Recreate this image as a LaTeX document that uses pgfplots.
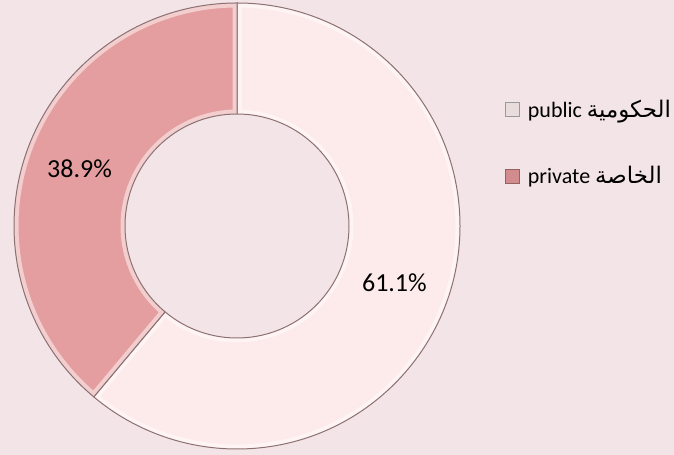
\documentclass[border=0pt]{standalone}
\usepackage{pgfplots}
\pgfplotsset{compat=1.18}
\usepackage{pgfplotstable}
\usepackage{fontspec}
\setmainfont{Carlito}
\newfontfamily\arabicfont[Script=Arabic,Scale=1.04]{DejaVu Sans}
\TeXXeTstate=1
\definecolor{bgc}{RGB}{243,228,232}
\definecolor{pubc}{RGB}{253,234,234}
\definecolor{privc}{RGB}{229,158,159}
\definecolor{edgec}{RGB}{140,112,114}
\definecolor{pubsq}{RGB}{232,220,221}
\definecolor{privsq}{RGB}{210,140,142}

\pgfplotstableread{
label value
public 61.1
private 38.9
}\sharetable

\pgfplotstablegetelem{0}{value}\of\sharetable \let\vpub\pgfplotsretval
\pgfplotstablegetelem{1}{value}\of\sharetable \let\vpriv\pgfplotsretval
\pgfmathsetmacro\aA{90}
\pgfmathsetmacro\aB{90-3.6*\vpub}
\pgfmathsetmacro\aC{\aB-3.6*\vpriv}
\pgfmathsetmacro\mA{90-1.8*\vpub}
\pgfmathsetmacro\mB{\aB-1.8*\vpriv}
\def\Ro{223bp}
\def\Ri{112bp}
\def\Rm{167.5bp}

\newcommand\slicepath[2]{([shift={(#1:\Ro)}]axis cs:237,229) arc[start angle=#1,end angle=#2,radius=\Ro] -- ([shift={(#2:\Ri)}]axis cs:237,229) arc[start angle=#2,end angle=#1,radius=\Ri] -- cycle}
\newcommand\slice[3]{%
  \fill[#3] \slicepath{#1}{#2};
  \begin{scope}
    \clip \slicepath{#1}{#2};
    \draw[white,line width=9bp,opacity=0.5] \slicepath{#1}{#2};
  \end{scope}
  \draw[edgec,line width=1bp,line join=round] \slicepath{#1}{#2};
}

\begin{document}
\begin{tikzpicture}
\begin{axis}[
  x=1bp, y=1bp,
  xmin=0, xmax=674, ymin=0, ymax=455,
  scale only axis,
  hide axis,
  clip=true,
  at={(0,0)}, anchor=south west,
  legend cell align=left,
  legend style={draw=none, fill=none, at={(axis cs:505,358)}, anchor=north west,
    font=\fontsize{22bp}{26bp}\selectfont, row sep=43bp, inner sep=0pt,
    nodes={inner sep=2.5bp}},
  legend image code/.code={\draw[#1] (0bp,-7bp) rectangle (14bp,7bp); \path[draw=none,fill=none] (14bp,0bp) -- (20bp,0bp);},
]
\fill[bgc] (axis cs:0,0) rectangle (axis cs:674,455);
\slice{\aA}{\aB}{pubc}
\slice{\aB}{\aC}{privc}
\node[font=\fontsize{26bp}{31bp}\selectfont] at ([shift={(\mA:\Rm)}]axis cs:237,229) {\vpub\%};
\node[font=\fontsize{26bp}{31bp}\selectfont] at ([shift={(\mB:\Rm)}]axis cs:237,229) {\vpriv\%};
\addlegendimage{fill=pubsq, draw=gray!80}
\addlegendentry{public \arabicfont\beginR الحكومية\endR}
\addlegendimage{fill=privsq, draw=privsq!70!black}
\addlegendentry{private \arabicfont\beginR الخاصة\endR}
\end{axis}
\end{tikzpicture}
\end{document}
